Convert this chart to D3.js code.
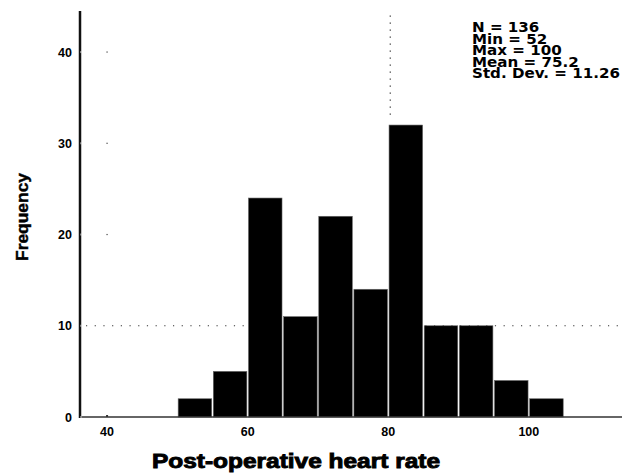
<html>
<head>
<script src="https://cdn.jsdelivr.net/npm/d3@7/dist/d3.min.js"></script>
<style>
  body { margin: 0; background: white; }
  text { font-family: "Liberation Sans", Arial, sans-serif; font-weight: bold; }
</style>
</head>
<body>
<svg width="622" height="475"></svg>
<script>
// histogram of post-operative heart rate, bins of width 5
const binStarts = [50, 55, 60, 65, 70, 75, 80, 85, 90, 95, 100]
const counts = [2, 5, 24, 11, 22, 14, 32, 10, 10, 4, 2]
const binWidth = 5
const xTicks = [40, 60, 80, 100]
const yTicks = [0, 10, 20, 30, 40]
const stats = ["N = 136", "Min = 52", "Max = 100", "Mean = 75.2", "Std. Dev. = 11.26"]

const svg = d3.select("svg")

const x = d3.scaleLinear().domain([36.15, 113.25]).range([80, 622])
const y = d3.scaleLinear().domain([0, 44.5]).range([417, 11])

//reference lines (dotted) drawn under the bars
svg.append("line").attr("x1", x(37)).attr("x2", 622).attr("y1", y(10)).attr("y2", y(10))
  .attr("stroke", "#333").attr("stroke-width", 1.2).attr("stroke-dasharray", "1.2,7.5")
svg.append("line").attr("x1", x(80) + 2).attr("x2", x(80) + 2).attr("y1", y(44)).attr("y2", y(33))
  .attr("stroke", "#333").attr("stroke-width", 1.2).attr("stroke-dasharray", "1.2,5.8")

//grid dots
;[20, 30, 40].forEach(function(v) {
  svg.append("rect").attr("x", x(40) - 0.6).attr("y", y(v) - 0.6).attr("width", 1.2).attr("height", 1.2).attr("fill", "#444")
})

//bars
svg.append("g").selectAll("rect").data(binStarts).join("rect")
  .attr("x", d => x(d) + 0.8)
  .attr("width", d => x(d + binWidth) - x(d) - 1.6)
  .attr("y", (d, i) => y(counts[i]))
  .attr("height", (d, i) => y(0) - y(counts[i]))
  .attr("fill", "black").attr("stroke", "#666").attr("stroke-width", 0.6)

//axes lines
svg.append("line").attr("x1", 80).attr("x2", 622).attr("y1", y(0)).attr("y2", y(0))
  .attr("stroke", "#333").attr("stroke-width", 1.5)
svg.append("line").attr("x1", 80).attr("x2", 80).attr("y1", y(44.5)).attr("y2", y(0) + 1)
  .attr("stroke", "#111").attr("stroke-width", 2.5)

//ticks
svg.append("g").selectAll("rect").data(yTicks).join("rect")
  .attr("x", 80.5).attr("y", d => y(d) - 1).attr("width", 1).attr("height", 2).attr("fill", "#ddd")
svg.append("g").selectAll("rect").data(xTicks.slice(0, 1)).join("rect")
  .attr("x", d => x(d) - 1).attr("y", y(0) - 2).attr("width", 2).attr("height", 2).attr("fill", "#333")

//tick labels
svg.append("g").selectAll("text").data(yTicks).join("text")
  .attr("x", 72).attr("y", d => y(d) + 4.5).attr("text-anchor", "end")
  .attr("font-size", 12.5).text(d => d)
svg.append("g").selectAll("text").data(xTicks).join("text")
  .attr("x", d => x(d)).attr("y", 436).attr("text-anchor", "middle")
  .attr("font-size", 12.5).text(d => d)

//axis titles
svg.append("text").attr("transform", "translate(28,217) rotate(-90)").attr("text-anchor", "middle")
  .attr("font-size", 16).attr("textLength", 88).attr("lengthAdjust", "spacingAndGlyphs")
  .attr("stroke", "black").attr("stroke-width", 0.4).text("Frequency")
svg.append("text").attr("x", 152).attr("y", 468)
  .attr("font-size", 20).attr("textLength", 288).attr("lengthAdjust", "spacingAndGlyphs")
  .attr("stroke", "black").attr("stroke-width", 0.9)
  .text("Post-operative heart rate")

//stats box, a wide blocky font
svg.append("g").attr("transform", "translate(472,0) scale(1.12,1)")
  .selectAll("text").data(stats).join("text")
  .attr("x", 0).attr("y", (d, i) => 32 + i * 11.6)
  .attr("font-size", 13.5).style("font-family", "'DejaVu Sans', sans-serif")
  .text(d => d)
</script>
</body>
</html>
